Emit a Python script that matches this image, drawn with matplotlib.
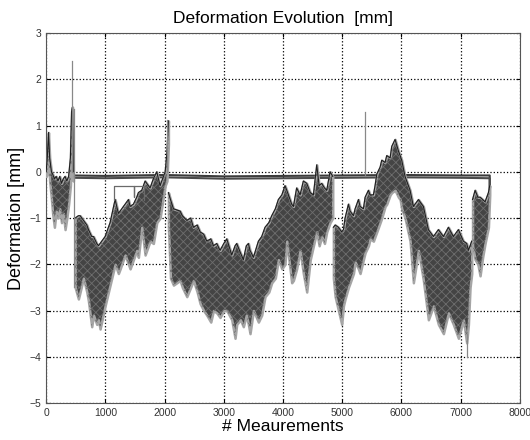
import numpy as np
import matplotlib
matplotlib.use("Agg")
import matplotlib.pyplot as plt

plt.rcParams['font.family'] = ['Liberation Sans', 'DejaVu Sans']
plt.rcParams['hatch.linewidth'] = 0.6

seg1_x = [0, 20, 40, 60, 90, 110, 140, 170, 200, 230, 260, 290, 320, 350, 380, 410, 430, 445, 460]
seg1_hi = [0.0, 0.3, 0.85, 0.3, 0.0, -0.05, -0.15, -0.1, -0.2, -0.1, -0.25, -0.15, -0.1, -0.2, -0.1, 0.3, 1.3, 1.4, 0.0]
seg1_lo = [-0.1, -0.05, 0.2, -0.2, -0.6, -0.9, -1.2, -0.85, -1.0, -0.8, -1.1, -0.9, -1.25, -1.0, -0.7, -0.3, 0.2, 0.4, -0.2]

seg2_x = [490, 545, 574, 630, 687, 715, 770, 800, 855, 883, 911, 996, 1080, 1165, 1220, 1250, 1305,
          1334, 1390, 1418, 1474, 1530, 1558, 1615, 1671, 1755, 1811, 1868, 1924, 2010, 2040, 2065]
seg2_hi = [-1.0, -0.95, -0.95, -1.05, -1.15, -1.25, -1.4, -1.4, -1.55, -1.6, -1.55, -1.4, -1.1, -0.6, -0.9, -0.85, -0.75,
           -0.7, -0.6, -0.75, -0.7, -0.55, -0.45, -0.4, -0.2, -0.35, -0.15, 0.0, -0.3, 0.0, 0.4, 1.1]
seg2_lo = [-2.5, -2.75, -2.6, -2.3, -2.6, -2.8, -3.35, -3.1, -3.3, -3.2, -3.4, -2.9, -2.45, -2.0, -2.2, -2.1, -1.9,
           -1.8, -2.0, -2.1, -1.9, -1.7, -1.85, -1.2, -1.8, -1.5, -1.55, -1.1, -1.0, -0.3, -0.2, 0.6]

seg3_x = [2065, 2100, 2150, 2262, 2300, 2375, 2440, 2487, 2550, 2600, 2660, 2712, 2780, 2825, 2880, 2937, 3000,
          3050, 3134, 3190, 3218, 3280, 3330, 3380, 3415, 3443, 3500, 3584, 3640, 3696, 3760, 3809, 3870, 3921,
          3980, 4033, 4063, 4146, 4175, 4230, 4288, 4343, 4400, 4460, 4513, 4569, 4610, 4653, 4700, 4738, 4794, 4839]
seg3_hi = [-0.45, -0.6, -0.8, -0.85, -0.95, -1.05, -1.0, -1.2, -1.15, -1.3, -1.35, -1.5, -1.45, -1.6, -1.55, -1.7, -1.55,
           -1.45, -1.8, -1.6, -1.55, -1.75, -1.9, -1.6, -1.55, -1.7, -1.85, -1.5, -1.4, -1.2, -1.1, -0.95, -0.8, -0.6,
           -0.5, -0.3, -0.4, -0.7, -0.75, -0.35, -0.5, -0.2, -0.25, -0.45, -0.5, 0.15, -0.3, -0.25, -0.35, -0.4, 0.0, -0.1]
seg3_lo = [-1.2, -2.3, -2.45, -2.35, -2.5, -2.7, -2.5, -2.35, -2.6, -2.85, -3.0, -3.1, -3.25, -3.0, -3.05, -3.15, -3.0,
           -3.0, -3.2, -3.6, -3.3, -3.2, -3.35, -3.1, -3.3, -3.5, -3.0, -3.25, -3.1, -2.7, -2.6, -2.4, -2.3, -1.9,
           -2.1, -2.0, -1.5, -2.4, -2.35, -2.1, -1.7, -2.2, -2.6, -1.9, -1.6, -1.3, -1.6, -1.4, -1.55, -1.3, -1.1, -1.0]

seg4_x = [4850, 4880, 4935, 4991, 5020, 5048, 5104, 5133, 5189, 5217, 5273, 5301, 5357, 5386, 5442, 5470,
          5526, 5554, 5583, 5639, 5667, 5723, 5751, 5808, 5836, 5892, 5948, 5977, 6004, 6060, 6145, 6201,
          6286, 6370, 6454, 6539, 6623, 6708, 6792, 6876, 6961, 7045, 7101, 7130, 7158, 7186]
seg4_hi = [-1.2, -1.15, -1.2, -1.3, -1.25, -1.0, -0.7, -0.85, -0.95, -0.8, -0.6, -0.75, -0.8, -0.55, -0.4, -0.5,
           -0.5, -0.3, -0.05, 0.1, 0.25, 0.2, 0.35, 0.3, 0.55, 0.7, 0.45, 0.35, 0.25, -0.1, -0.4, -0.75,
           -0.6, -0.75, -1.25, -1.4, -1.25, -1.4, -1.2, -1.4, -1.25, -1.5, -1.55, -1.7, -1.6, -1.5]
seg4_lo = [-2.3, -2.7, -3.0, -3.3, -2.9, -2.75, -2.5, -2.4, -2.2, -1.95, -2.1, -2.2, -1.9, -1.75, -1.6, -1.45,
           -1.5, -1.4, -1.3, -1.1, -1.0, -0.75, -0.7, -0.5, -0.45, -0.4, -0.55, -0.6, -0.8, -1.0, -1.5, -2.4,
           -1.7, -2.35, -3.2, -2.9, -3.3, -3.5, -3.05, -3.3, -3.6, -3.2, -3.7, -3.3, -2.5, -2.2]

seg5_x = [7200, 7243, 7290, 7327, 7370, 7411, 7468, 7490]
seg5_hi = [-0.6, -0.4, -0.55, -0.55, -0.6, -0.65, -0.45, -0.3]
seg5_lo = [-1.6, -1.9, -2.0, -2.25, -1.85, -1.55, -1.2, -0.5]

# nearly flat reference channel
flat_x = [460, 1000, 2000, 3000, 4000, 5000, 6000, 7000, 7490, 7490]
flat_a = [-0.08, -0.09, -0.07, -0.10, -0.09, -0.08, -0.07, -0.08, -0.08, -0.55]
flat_b = [-0.13, -0.14, -0.12, -0.15, -0.14, -0.13, -0.12, -0.13, -0.14, -0.55]

# bracket line around 1150-1650 and single spikes
box_x = [1150, 1150, 1480, 1480, 1480, 1650, 1650]
box_y = [-0.6, -0.3, -0.3, -0.55, -0.3, -0.3, -0.6]
spike_x = [[440, 440], [470, 470], [2040, 2040], [5380, 5380], [7110, 7110]]
spike_y = [[0.0, 2.4], [1.35, -2.5], [0.0, 1.12], [-0.1, 1.3], [-3.5, -4.0]]

fig = plt.figure(figsize=(5.3, 4.4), dpi=100)
ax = fig.add_axes([0.087, 0.084, 0.894, 0.841])

ax.plot(flat_x, flat_a, color='#3a3a3a', linewidth=1.5, zorder=2.5)
ax.plot(flat_x, flat_b, color='#4a4a4a', linewidth=1.5, zorder=2.5)

for x, hi, lo in [(seg1_x, seg1_hi, seg1_lo), (seg2_x, seg2_hi, seg2_lo), (seg3_x, seg3_hi, seg3_lo),
                  (seg4_x, seg4_hi, seg4_lo), (seg5_x, seg5_hi, seg5_lo)]:
    ax.fill_between(x, lo, hi, facecolor='#444444', edgecolor='#a5a5a5', linewidth=1.8, zorder=3)
    ax.fill_between(x, lo, hi, facecolor='none', edgecolor='#6e6e6e', hatch='xxxx', linewidth=0, zorder=3.5)
    ax.plot(x, hi, color='#1e1e1e', linewidth=0.8, zorder=4)

ax.plot(box_x, box_y, color='#6a6a6a', linewidth=0.9, zorder=5)
for sx, sy in zip(spike_x, spike_y):
    ax.plot(sx, sy, color='#888888', linewidth=0.9, zorder=4)

ax.set_xlim(0, 8000)
ax.set_ylim(-5, 3)
ax.set_xticks(np.arange(0, 8001, 1000))
ax.set_yticks(np.arange(-5, 4, 1))
ax.grid(True, linestyle=':', color='black', linewidth=0.9)
ax.set_axisbelow(True)
ax.tick_params(direction='in', top=True, right=True, labelsize=7.5, labelcolor='#333333', length=3)
for s in ax.spines.values():
    s.set_linewidth(0.8)
    s.set_color('#555555')

ax.set_title('Deformation Evolution  [mm]', fontsize=12.5, pad=7)
ax.set_xlabel('# Meaurements', fontsize=12.6, labelpad=1)
ax.set_ylabel('Deformation [mm]', fontsize=13, labelpad=3)

fig.savefig('out.png', dpi=100)
